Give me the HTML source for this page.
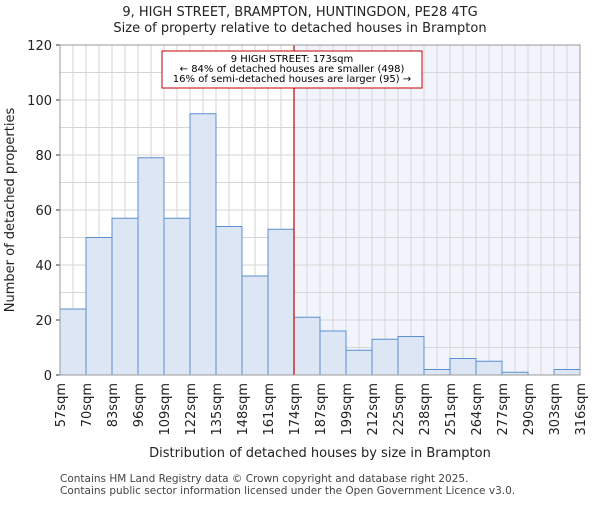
<!DOCTYPE html>
<html><head><meta charset="utf-8"><style>body{margin:0;background:#fff}svg{font-family:"DejaVu Sans","Liberation Sans",sans-serif}</style></head>
<body>
<svg id="c" width="600" height="500"></svg>
<script>
const categories=["57sqm","70sqm","83sqm","96sqm","109sqm","122sqm","135sqm","148sqm","161sqm","174sqm","187sqm","199sqm","212sqm","225sqm","238sqm","251sqm","264sqm","277sqm","290sqm","303sqm","316sqm"];
const counts=[24,50,57,79,57,95,54,36,53,21,16,9,13,14,2,6,5,1,0,2];
const yTicks=[0,20,40,60,80,100,120];
const markerBin=9;
const NS="http://www.w3.org/2000/svg",svg=document.getElementById('c');
const L=60,R=580,T=45,B=375,n=counts.length,bw=(R-L)/n;
const x=i=>L+i*bw, y=v=>B-(v/120)*(B-T);
function el(t,a,txt){const e=document.createElementNS(NS,t);for(const k in a)e.setAttribute(k,a[k]);if(txt!=null)e.textContent=txt;svg.appendChild(e);return e;}
let e;
e=el('rect',{x:x(markerBin),y:T,width:R-x(markerBin),height:B-T,fill:'#f1f4fc'});

for(let i=0;i<=2*n;i++){e=el('line',{x1:L+i*bw/2,x2:L+i*bw/2,y1:T,y2:B,stroke:'#d6d6d6','stroke-width':1});
}
for(let v=0;v<=120;v+=10){e=el('line',{x1:L,x2:R,y1:y(v),y2:y(v),stroke:'#d6d6d6','stroke-width':1});
}
counts.forEach((c,i)=>{if(c<=0)return;e=el('rect',{x:x(i),y:y(c),width:bw,height:B-y(c),fill:'#dce6f5',stroke:'#5b8fd0','stroke-width':1});
});
e=el('line',{x1:x(markerBin),x2:x(markerBin),y1:T,y2:B,stroke:'#c00000','stroke-width':1.2});

e=el('rect',{x:162,y:51,width:260,height:37,fill:'#fff',stroke:'#c00000','stroke-width':1});

["9 HIGH STREET: 173sqm","← 84% of detached houses are smaller (498)","16% of semi-detached houses are larger (95) →"].forEach((t,i)=>{
e=el('text',{x:292,y:62+i*10,'font-size':10,'text-anchor':'middle',fill:'#000'},t);
});
yTicks.forEach(v=>{e=el('text',{x:L-8,y:y(v)+5,'font-size':13,'text-anchor':'end',fill:'#222'},v);

el('line',{x1:L-4,x2:L,y1:y(v),y2:y(v),stroke:'#333'});});
categories.forEach((c,i)=>{const xx=x(i);e=el('text',{x:xx+5,y:B+8,'font-size':13,'text-anchor':'end',fill:'#222',transform:`rotate(-90 ${xx+5} ${B+8})`},c);
});
e=el('rect',{x:L,y:T,width:R-L,height:B-T,fill:'none',stroke:'#999','stroke-width':1});

e=el('text',{x:300,y:16,'font-size':13,'text-anchor':'middle',fill:'#222'},"9, HIGH STREET, BRAMPTON, HUNTINGDON, PE28 4TG");

e=el('text',{x:300,y:32,'font-size':13,'text-anchor':'middle',fill:'#222'},"Size of property relative to detached houses in Brampton");

e=el('text',{x:14,y:210,'font-size':13,'text-anchor':'middle',fill:'#222',transform:'rotate(-90 14 210)'},"Number of detached properties");

e=el('text',{x:320,y:457,'font-size':13,'text-anchor':'middle',fill:'#222'},"Distribution of detached houses by size in Brampton");

e=el('text',{x:60,y:482,'font-size':10.5,fill:'#444'},"Contains HM Land Registry data © Crown copyright and database right 2025.");

e=el('text',{x:60,y:494,'font-size':10.5,fill:'#444'},"Contains public sector information licensed under the Open Government Licence v3.0.");

</script>
</body></html>
